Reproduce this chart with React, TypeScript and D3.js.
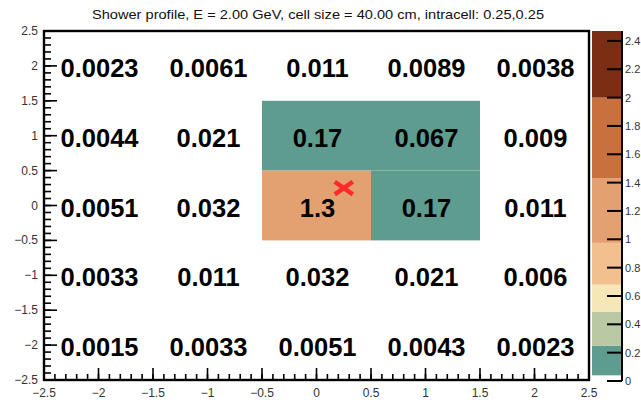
import React from "react";
import * as d3 from "d3";

// Cell contents, rows from top (y = 2) to bottom (y = -2), columns x = -2 .. 2
const xCenters = [-2, -1, 0, 1, 2];
const yCenters = [2, 1, 0, -1, -2];
const row2 = [0.0023, 0.0061, 0.011, 0.0089, 0.0038];
const row1 = [0.0044, 0.021, 0.17, 0.067, 0.009];
const row0 = [0.0051, 0.032, 1.3, 0.17, 0.011];
const rowM1 = [0.0033, 0.011, 0.032, 0.021, 0.006];
const rowM2 = [0.0015, 0.0033, 0.0051, 0.0043, 0.0023];
const rows = [row2, row1, row0, rowM1, rowM2];
const labels = [
  ["0.0023", "0.0061", "0.011", "0.0089", "0.0038"],
  ["0.0044", "0.021", "0.17", "0.067", "0.009"],
  ["0.0051", "0.032", "1.3", "0.17", "0.011"],
  ["0.0033", "0.011", "0.032", "0.021", "0.006"],
  ["0.0015", "0.0033", "0.0051", "0.0043", "0.0023"],
];

// Impact point of the shower
const impactX = 0.25;
const impactY = 0.25;

// Colour levels of the z axis
const zMin = 0.04;
const zMax = 2.47;
const levelEdges = [0.04, 0.25, 0.49, 0.68, 0.975, 1.43, 2.0, 2.47];
const levelColors = ["#5e9c8f", "#b8c9a4", "#f5e7b7", "#f2c08f", "#e3a070", "#c9703f", "#7c2e15"];
const zTicks = [0, 0.2, 0.4, 0.6, 0.8, 1, 1.2, 1.4, 1.6, 1.8, 2, 2.2, 2.4];

const axisMajor = d3.range(-2.5, 2.5001, 0.5);
const axisMinor = d3.range(-2.5, 2.5001, 0.1);

const title = "Shower profile, E = 2.00 GeV, cell size = 40.00 cm, intracell: 0.25,0.25";

const W = 641;
const H = 400;

function fmt(v: number): string {
  const r = Math.round(v * 10) / 10;
  const s = d3.format("~g")(Math.abs(r));
  return r < 0 ? "\u2212" + s : s;
}

export default function App() {
  const x = d3.scaleLinear().domain([-2.5, 2.5]).range([44, 589]);
  const y = d3.scaleLinear().domain([-2.5, 2.5]).range([380, 31]);
  const z = d3.scaleLinear().domain([0, zMax]).range([381, 31]);
  const colorOf = d3
    .scaleThreshold<number, string>()
    .domain(levelEdges.slice(1, -1))
    .range(levelColors);

  const barX0 = 592;
  const barX1 = 622;
  const font = "'Liberation Sans', Arial, Helvetica, sans-serif";

  const cells: React.ReactNode[] = [];
  const texts: React.ReactNode[] = [];
  rows.forEach((row, ri) => {
    row.forEach((v, ci) => {
      const cx = xCenters[ci];
      const cy = yCenters[ri];
      if (v >= zMin) {
        cells.push(
          <rect
            key={`c${ri}-${ci}`}
            x={x(cx - 0.5)}
            y={y(cy + 0.5)}
            width={x(cx + 0.5) - x(cx - 0.5)}
            height={y(cy - 0.5) - y(cy + 0.5)}
            fill={colorOf(v)}
          />
        );
      }
      texts.push(
        <text
          key={`t${ri}-${ci}`}
          x={x(cx) + 1}
          y={y(cy) + 11}
          textAnchor="middle"
          fontFamily={font}
          fontWeight="bold"
          fontSize={25.5}
          fill="#000"
        >
          {labels[ri][ci]}
        </text>
      );
    });
  });

  const mx = x(impactX);
  const my = y(impactY);
  const ms = 9;

  return (
    <svg
      width={W}
      height={H}
      style={{ position: "absolute", left: 0, top: 0, background: "#fff" }}
    >
      <rect x={0} y={0} width={W} height={H} fill="#fff" />
      <text
        x={318}
        y={19}
        textAnchor="middle"
        fontFamily={font}
        fontSize={13}
        fill="#111"
        textLength={452}
        lengthAdjust="spacingAndGlyphs"
      >
        {title}
      </text>

      {cells}
      {texts}

      {/* impact marker */}
      <g stroke="#ff2a2a" strokeWidth={4.5} strokeLinecap="butt">
        <line x1={mx - ms} y1={my - ms * 0.7} x2={mx + ms} y2={my + ms * 0.7} />
        <line x1={mx - ms} y1={my + ms * 0.7} x2={mx + ms} y2={my - ms * 0.7} />
      </g>

      {/* x axis ticks */}
      <g stroke="#000" strokeWidth={1.6}>
        {axisMinor.map((t, i) => (
          <line key={`xm${i}`} x1={x(t)} x2={x(t)} y1={y(-2.5)} y2={y(-2.5) - 6} />
        ))}
        {axisMajor.map((t, i) => (
          <line key={`xM${i}`} x1={x(t)} x2={x(t)} y1={y(-2.5)} y2={y(-2.5) - 12} />
        ))}
        {axisMinor.map((t, i) => (
          <line key={`ym${i}`} x1={x(-2.5)} x2={x(-2.5) + 7} y1={y(t)} y2={y(t)} />
        ))}
        {axisMajor.map((t, i) => (
          <line key={`yM${i}`} x1={x(-2.5)} x2={x(-2.5) + 13} y1={y(t)} y2={y(t)} />
        ))}
      </g>

      {/* frame */}
      <rect
        x={x(-2.5)}
        y={y(2.5)}
        width={x(2.5) - x(-2.5)}
        height={y(-2.5) - y(2.5)}
        fill="none"
        stroke="#000"
        strokeWidth={2.4}
      />

      {/* axis labels */}
      {axisMajor.map((t, i) => (
        <text
          key={`xl${i}`}
          x={x(t)}
          y={397}
          textAnchor="middle"
          fontFamily={font}
          fontSize={12}
          fill="#333"
        >
          {fmt(t)}
        </text>
      ))}
      {axisMajor.map((t, i) => (
        <text
          key={`yl${i}`}
          x={38}
          y={y(t) + 4}
          textAnchor="end"
          fontFamily={font}
          fontSize={12}
          fill="#333"
        >
          {fmt(t)}
        </text>
      ))}

      {/* colour scale */}
      {levelColors.map((c, i) => {
        const lo = Math.max(levelEdges[i], zMin);
        const hi = levelEdges[i + 1];
        return (
          <rect
            key={`lv${i}`}
            x={barX0}
            y={z(hi)}
            width={barX1 - barX0}
            height={z(lo) - z(hi)}
            fill={c}
          />
        );
      })}
      <g stroke="#000" strokeWidth={2}>
        <line x1={barX1} x2={barX1} y1={z(zMax)} y2={z(0)} />
        {zTicks.map((t, i) => (
          <line key={`zt${i}`} x1={barX1 - 15} x2={barX1} y1={z(t)} y2={z(t)} />
        ))}
      </g>
      {zTicks.map((t, i) => (
        <text
          key={`zl${i}`}
          x={625}
          y={z(t) + 4}
          fontFamily={font}
          fontSize={11}
          fill="#333"
        >
          {d3.format("~g")(t)}
        </text>
      ))}
    </svg>
  );
}
